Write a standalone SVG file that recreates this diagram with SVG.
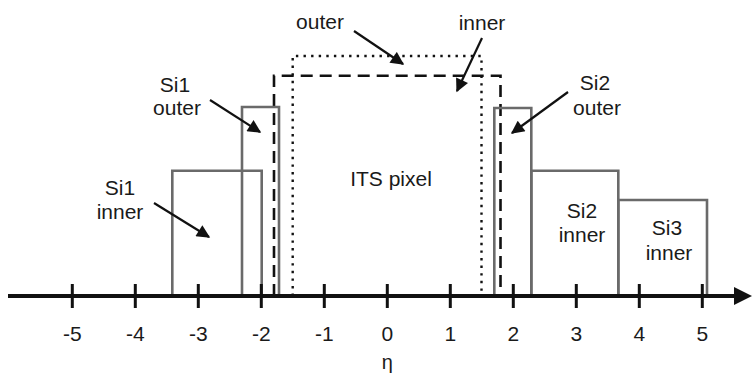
<svg xmlns="http://www.w3.org/2000/svg" width="752" height="378" viewBox="0 0 752 378">
<defs>
<marker id="ah" viewBox="0 0 10 10" refX="9" refY="5" markerWidth="7" markerHeight="6" markerUnits="strokeWidth" orient="auto">
<path d="M0,0 L10,5 L0,10 z" fill="#111"/>
</marker>
</defs>
<style>
.t{font-family:"Liberation Sans",Arial,sans-serif;font-size:21px;fill:#1a1a1a;text-anchor:middle}
.box{fill:none;stroke:#6a6a6a;stroke-width:2.6}
.dash{fill:none;stroke:#111;stroke-width:2.6;stroke-dasharray:12 7}
.dot{fill:none;stroke:#111;stroke-width:2.4;stroke-dasharray:2.4 5.2}
.arr{stroke:#111;stroke-width:2.2;fill:none;marker-end:url(#ah)}
.tick{stroke:#111;stroke-width:3}
</style>
<rect width="752" height="378" fill="#fff"/>
<g id="its-outer"><path class="dot" d="M292.7,296 V56 H481.5 V296"/></g>
<g id="its-inner"><path class="dash" d="M274,296 V75.7 H500.5 V296"/></g>
<g id="si1-inner"><path class="box" d="M172.3,296 V170.7 H261.7 V296"/></g>
<g id="si1-outer"><path class="box" d="M242,296 V107 H279 V296"/></g>
<g id="si2-outer"><path class="box" d="M494.3,296 V108 H531.3 V296"/></g>
<g id="si2-inner"><path class="box" d="M531.3,296 V170.7 H618.3 V296"/></g>
<g id="si3-inner"><path class="box" d="M618.3,296 V200 H707 V296"/></g>
<g id="axis">
<line x1="8" y1="296" x2="738" y2="296" stroke="#111" stroke-width="4"/>
<path d="M752,296 L734,287 L734,305 z" fill="#111"/>
<g class="tick">
<line x1="72.3" y1="284" x2="72.3" y2="308"/>
<line x1="135.3" y1="284" x2="135.3" y2="308"/>
<line x1="198.3" y1="284" x2="198.3" y2="308"/>
<line x1="261.3" y1="284" x2="261.3" y2="308"/>
<line x1="324.3" y1="284" x2="324.3" y2="308"/>
<line x1="387.3" y1="284" x2="387.3" y2="308"/>
<line x1="450.3" y1="284" x2="450.3" y2="308"/>
<line x1="513.3" y1="284" x2="513.3" y2="308"/>
<line x1="576.3" y1="284" x2="576.3" y2="308"/>
<line x1="639.3" y1="284" x2="639.3" y2="308"/>
<line x1="702.3" y1="284" x2="702.3" y2="308"/>
</g>
<text class="t" x="72.3" y="341">-5</text>
<text class="t" x="135.3" y="341">-4</text>
<text class="t" x="198.3" y="341">-3</text>
<text class="t" x="261.3" y="341">-2</text>
<text class="t" x="324.3" y="341">-1</text>
<text class="t" x="387.3" y="341">0</text>
<text class="t" x="450.3" y="341">1</text>
<text class="t" x="513.3" y="341">2</text>
<text class="t" x="576.3" y="341">3</text>
<text class="t" x="639.3" y="341">4</text>
<text class="t" x="702.3" y="341">5</text>
<text class="t" x="387.3" y="369" style="font-size:20px">η</text>
</g>
<g id="labels">
<text class="t" x="320" y="29">outer</text>
<text class="t" x="482" y="30">inner</text>
<text class="t" x="175" y="92">Si1</text>
<text class="t" x="177" y="115">outer</text>
<text class="t" x="595" y="90">Si2</text>
<text class="t" x="597" y="115">outer</text>
<text class="t" x="120" y="195">Si1</text>
<text class="t" x="120" y="219">inner</text>
<text class="t" x="391" y="186">ITS pixel</text>
<text class="t" x="582" y="218">Si2</text>
<text class="t" x="582" y="242">inner</text>
<text class="t" x="667" y="235">Si3</text>
<text class="t" x="669" y="260">inner</text>
</g>
<g id="connectors">
<line class="arr" x1="354" y1="31" x2="403" y2="64"/>
<line class="arr" x1="482" y1="38" x2="457" y2="91"/>
<line class="arr" x1="210" y1="100" x2="260" y2="132"/>
<line class="arr" x1="568" y1="92" x2="512" y2="133"/>
<line class="arr" x1="154" y1="203" x2="209" y2="237"/>
</g>
</svg>
